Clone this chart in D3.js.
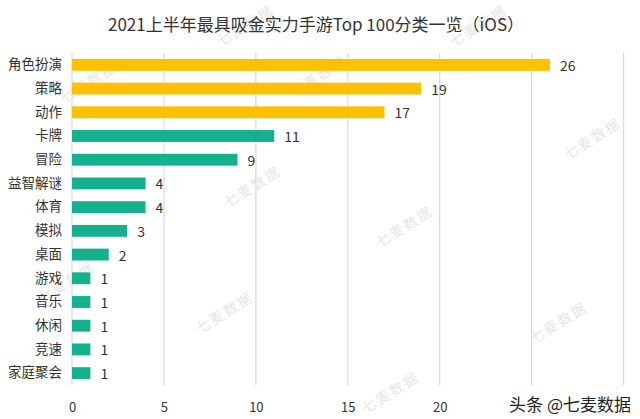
<!DOCTYPE html>
<html><head><meta charset="utf-8">
<script src="https://cdn.jsdelivr.net/npm/d3@7"></script>
<style>
html,body{margin:0;padding:0;background:#fff;}
svg{display:block;font-family:"Noto Sans CJK SC","Noto Sans",sans-serif;}
</style></head>
<body>
<svg id="chart" width="640" height="419"></svg>
<script>
const title = "2021上半年最具吸金实力手游Top 100分类一览（iOS）";
const categories = ["角色扮演","策略","动作","卡牌","冒险","益智解谜","体育","模拟","桌面","游戏","音乐","休闲","竞速","家庭聚会"];
const values = [26,19,17,11,9,4,4,3,2,1,1,1,1,1];
const highlightCount = 3;
const gridTicks = [0,5,10,15,20,25,30];
const tickLabels = [0,5,10,15,20];
const watermarkText = "七麦数据";
const watermarks = [[245,25],[478,25],[88,82],[318,76],[252,186],[592,138],[66,282],[224,312],[404,226],[558,322],[390,392]];
const sourceText = "头条 @七麦数据";

const svg = d3.select("#chart");
const W = 640, H = 419;
const m = {left:72, right:16, top:53, bottom:34};
const x = d3.scaleLinear().domain([0,30]).range([72, 72 + 30*(478/26)]);
const y = d3.scaleBand().domain(categories).range([m.top, H - m.bottom]).paddingInner(0.5).paddingOuter(0.25);

svg.append("rect").attr("width",W).attr("height",H).attr("fill","#fff");

// gridlines
svg.append("g").selectAll("line").data(gridTicks).join("line")
  .attr("x1",d=>x(d)).attr("x2",d=>x(d))
  .attr("y1",m.top).attr("y2",H-m.bottom)
  .attr("stroke","#d9d9d9").attr("stroke-width",1.2);

// watermarks
svg.append("g").selectAll("text").data(watermarks).join("text")
  .attr("transform",d=>`translate(${d[0]},${d[1]}) rotate(-32)`)
  .attr("text-anchor","middle").attr("dominant-baseline","central")
  .attr("font-size",14).attr("fill","#e6e6e6").attr("letter-spacing",2)
  .text(watermarkText);

// title
svg.append("text").attr("x",316).attr("y",23).attr("text-anchor","middle")
  .attr("dominant-baseline","central").attr("font-size",17).attr("fill","#333")
  .text(title);

// bars
svg.append("g").selectAll("rect").data(categories).join("rect")
  .attr("x",x(0)).attr("y",d=>y(d)).attr("height",y.bandwidth())
  .attr("width",(d,i)=>x(values[i])-x(0))
  .attr("fill",(d,i)=>i<highlightCount?"#FFC000":"#15B08E");

// value labels
svg.append("g").selectAll("text").data(categories).join("text")
  .attr("x",(d,i)=>x(values[i])+10).attr("y",d=>y(d)+y.bandwidth()/2)
  .attr("dominant-baseline","central").attr("font-size",14).attr("fill","#333")
  .text((d,i)=>values[i]);

// category axis
const yAxis = d3.axisLeft(y).tickSize(0).tickPadding(10);
const gy = svg.append("g").attr("transform",`translate(${x(0)},0)`).call(yAxis);
gy.select(".domain").remove();
gy.selectAll("text").attr("font-size",13.5).attr("fill","#333")
  .attr("font-family","'Noto Sans CJK SC',sans-serif");

// x axis labels
const xAxis = d3.axisBottom(x).tickValues(tickLabels).tickSize(0).tickPadding(12);
const gx = svg.append("g").attr("transform",`translate(0,${H-m.bottom+6})`).call(xAxis);
gx.select(".domain").remove();
gx.selectAll("text").attr("font-size",13).attr("fill","#333")
  .attr("font-family","'Noto Sans CJK SC',sans-serif");

// source
svg.append("text").attr("x",631).attr("y",403).attr("text-anchor","end")
  .attr("dominant-baseline","central").attr("font-size",17).attr("fill","#222")
  .attr("stroke","#fff").attr("stroke-width",3).attr("paint-order","stroke")
  .text(sourceText);
</script>
</body></html>
